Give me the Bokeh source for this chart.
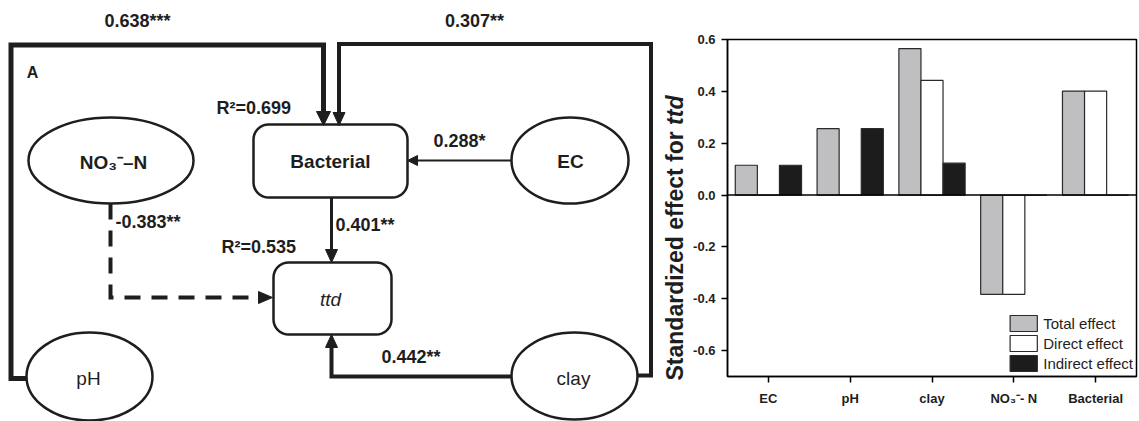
import numpy as np
from bokeh.plotting import figure
from bokeh.layouts import row
from bokeh.models import (Range1d, FactorRange, FixedTicker, NumeralTickFormatter,
                          Span, Label, ColumnDataSource)
from bokeh.transform import dodge
from bokeh.embed import file_html
from bokeh.resources import INLINE

# ---------------- data: bar chart ----------------
categories = ["EC", "pH", "clay", "NO₃⁻- N", "Bacterial"]
total_effect = [0.115, 0.256, 0.565, -0.383, 0.401]
direct_effect = [0.0, 0.0, 0.442, -0.383, 0.401]
indirect_effect = [0.115, 0.256, 0.123, 0.0, 0.0]
y_ticks = [-0.6, -0.4, -0.2, 0.0, 0.2, 0.4, 0.6]
series_names = ["Total effect", "Direct effect", "Indirect effect"]
y_title = ["Standardized effect for ", "ttd"]

# ---------------- data: path diagram ----------------
node_names = ["NO₃⁻–N", "EC", "pH", "clay"]
box_names = ["Bacterial", "ttd"]
coef_labels = ["0.638***", "0.307**", "0.288*", "0.401**", "0.442**", "-0.383**"]
r2_labels = ["R²=0.699", "R²=0.535"]

FONT = "Liberation Sans"
INK = "#1e1e1e"
TOTAL_W, TOTAL_H = 1139, 421

# ================= left: path diagram (pixel layout) =================
W1, H1 = 688, TOTAL_H
p1 = figure(width=W1, height=H1, x_range=Range1d(0, W1), y_range=Range1d(-H1, 0),
            output_backend="svg", toolbar_location=None, x_axis_type=None, y_axis_type=None,
            min_border=0)
p1.frame_align = False
p1.outline_line_color = None
p1.xgrid.visible = False
p1.ygrid.visible = False

def Y(v):
    return [-t for t in v]

# connector paths (layout, pixel coordinates of the picture)
paths = [
    ([26, 10.5, 10.5, 323, 323], [378, 378, 44.5, 44.5, 113], 5, "solid"),
    ([637, 650.5, 650.5, 338.5, 338.5], [375, 375, 43.5, 43.5, 114], 4, "solid"),
    ([511, 416], [160, 160], 2, "solid"),
    ([331, 331], [197, 250], 3, "solid"),
    ([511, 331, 331], [376, 376, 346], 4, "solid"),
    ([110, 110, 259], [203, 297, 297], 4, "16 11"),
]
for xs, ys, lw, dash in paths:
    p1.line(xs, Y(ys), line_width=lw, line_color=INK, line_dash=dash, line_join="miter", line_cap="butt")

# ellipses
ell_x = [110.5, 569.5, 89, 574]
ell_y = [160, 160, 376, 375.5]
ell_w = [165, 117, 126, 126]
ell_h = [86, 86, 88, 87]
p1.ellipse(x=ell_x, y=Y(ell_y), width=ell_w, height=ell_h, fill_color="white",
           line_color=INK, line_width=2.5)

# rounded boxes
def rrect(l, t, r, b, rad, n=10):
    xs, ys = [], []
    corners = [((l + rad, t + rad), 180, 270), ((r - rad, t + rad), 270, 360),
               ((r - rad, b - rad), 0, 90), ((l + rad, b - rad), 90, 180)]
    for (cx, cy), a0, a1 in corners:
        for a in np.linspace(np.radians(a0), np.radians(a1), n):
            xs.append(cx + rad * np.cos(a))
            ys.append(cy + rad * np.sin(a))
    return xs, ys

boxes = [(253, 124, 407, 197), (273, 262, 391, 334)]
bx, by = [], []
for l, t, r, b in boxes:
    xs, ys = rrect(l, t, r, b, 15)
    bx.append(xs)
    by.append(Y(ys))
p1.patches(bx, by, fill_color="white", line_color=INK, line_width=2.5)

# arrowheads
def head(tx, ty, dx, dy, L, w):
    bxc, byc = tx - L * dx, ty - L * dy
    nx, ny = -dy, dx
    return [tx, bxc + w * nx, bxc - w * nx], [ty, byc + w * ny, byc - w * ny]

heads = [head(323, 125, 0, 1, 14, 7), head(338.5, 125, 0, 1, 13, 6),
         head(407, 160, -1, 0, 10, 5), head(331, 262, 0, 1, 13, 6),
         head(331, 334, 0, -1, 13, 6), head(272, 297, 1, 0, 14, 6)]
p1.patches([h[0] for h in heads], [Y(h[1]) for h in heads], fill_color=INK, line_color=INK, line_width=1)

def lab(fig, x, y, text, size, style="bold", align="center", angle=0.0):
    fig.add_layout(Label(x=x, y=-y, text=text, text_font=FONT, text_font_size=f"{size}px",
                         text_font_style=style, text_align=align, text_baseline="middle",
                         text_color=INK, angle=angle))

lab(p1, 137, 20, coef_labels[0], 18)
lab(p1, 474, 20, coef_labels[1], 18)
lab(p1, 32, 72, "A", 16)
lab(p1, 216, 107, r2_labels[0], 18, align="left")
lab(p1, 433, 140, coef_labels[2], 18, align="left")
lab(p1, 115, 221, coef_labels[5], 18, align="left")
lab(p1, 335, 224, coef_labels[3], 18, align="left")
lab(p1, 221, 246, r2_labels[1], 18, align="left")
lab(p1, 381, 356, coef_labels[4], 18, align="left")
lab(p1, 113, 162, node_names[0], 19)
lab(p1, 570, 161, node_names[1], 19)
lab(p1, 88, 378, node_names[2], 19, style="normal")
lab(p1, 573, 378, node_names[3], 19, style="normal")
lab(p1, 330, 161, box_names[0], 19)
lab(p1, 330, 299, box_names[1], 19, style="italic")

# y-axis title of the bar chart (drawn in the left canvas, which reaches past it)
TS = 23
lab(p1, 674, 380, y_title[0], TS, align="left", angle=np.pi / 2)
lab(p1, 674, 380 - 11.113 * TS, y_title[1], TS, style="bold italic", align="left", angle=np.pi / 2)

# ================= right: bar chart =================
W2, H2 = TOTAL_W - W1, TOTAL_H
src = ColumnDataSource(dict(cat=categories, total=total_effect, direct=direct_effect,
                            indirect=indirect_effect))
p2 = figure(width=W2, height=H2, x_range=FactorRange(*categories), y_range=Range1d(-0.7, 0.6),
            output_backend="svg", toolbar_location=None,
            min_border_left=727 - W1, min_border_right=3, min_border_top=39, min_border_bottom=45)
p2.frame_align = False
p2.xgrid.visible = False
p2.ygrid.visible = False
p2.outline_line_color = "black"
p2.outline_line_width = 1.5

fills = ["#bfbfc1", "white", "#1c1c1c"]
offs = [-0.27, 0.0, 0.27]
for col, name, fc, off in zip(["total", "direct", "indirect"], series_names, fills, offs):
    p2.vbar(x=dodge("cat", off, range=p2.x_range), top=col, bottom=0, width=0.27, source=src,
            fill_color=fc, line_color="#2a2a2a", line_width=1.2, legend_label=name)

p2.add_layout(Span(location=0, dimension="width", line_color="black", line_width=1.5))

for ax in (p2.xaxis[0], p2.yaxis[0]):
    ax.axis_line_width = 1.5
    ax.axis_line_color = "black"
    ax.major_tick_line_color = "black"
    ax.major_tick_line_width = 1.5
    ax.major_tick_in = 0
    ax.major_tick_out = 6
    ax.minor_tick_line_color = None
    ax.major_label_text_font = FONT
    ax.major_label_text_font_style = "bold"
    ax.major_label_text_font_size = "13px"
    ax.major_label_text_color = INK
p2.yaxis.ticker = FixedTicker(ticks=y_ticks)
p2.yaxis.formatter = NumeralTickFormatter(format="0.0")
p2.yaxis.major_label_standoff = 6
p2.xaxis.major_label_standoff = 8

lg = p2.legend[0]
lg.location = "bottom_right"
lg.background_fill_alpha = 0
lg.border_line_color = None
lg.glyph_width = 34
lg.glyph_height = 20
lg.label_height = 20
lg.spacing = 0
lg.padding = 0
lg.margin = 3
lg.label_standoff = 3
lg.label_text_font = FONT
lg.label_text_font_size = "15px"
lg.label_text_color = INK

layout = row(p1, p2)
open("out.html", "w").write(file_html(layout, INLINE))
